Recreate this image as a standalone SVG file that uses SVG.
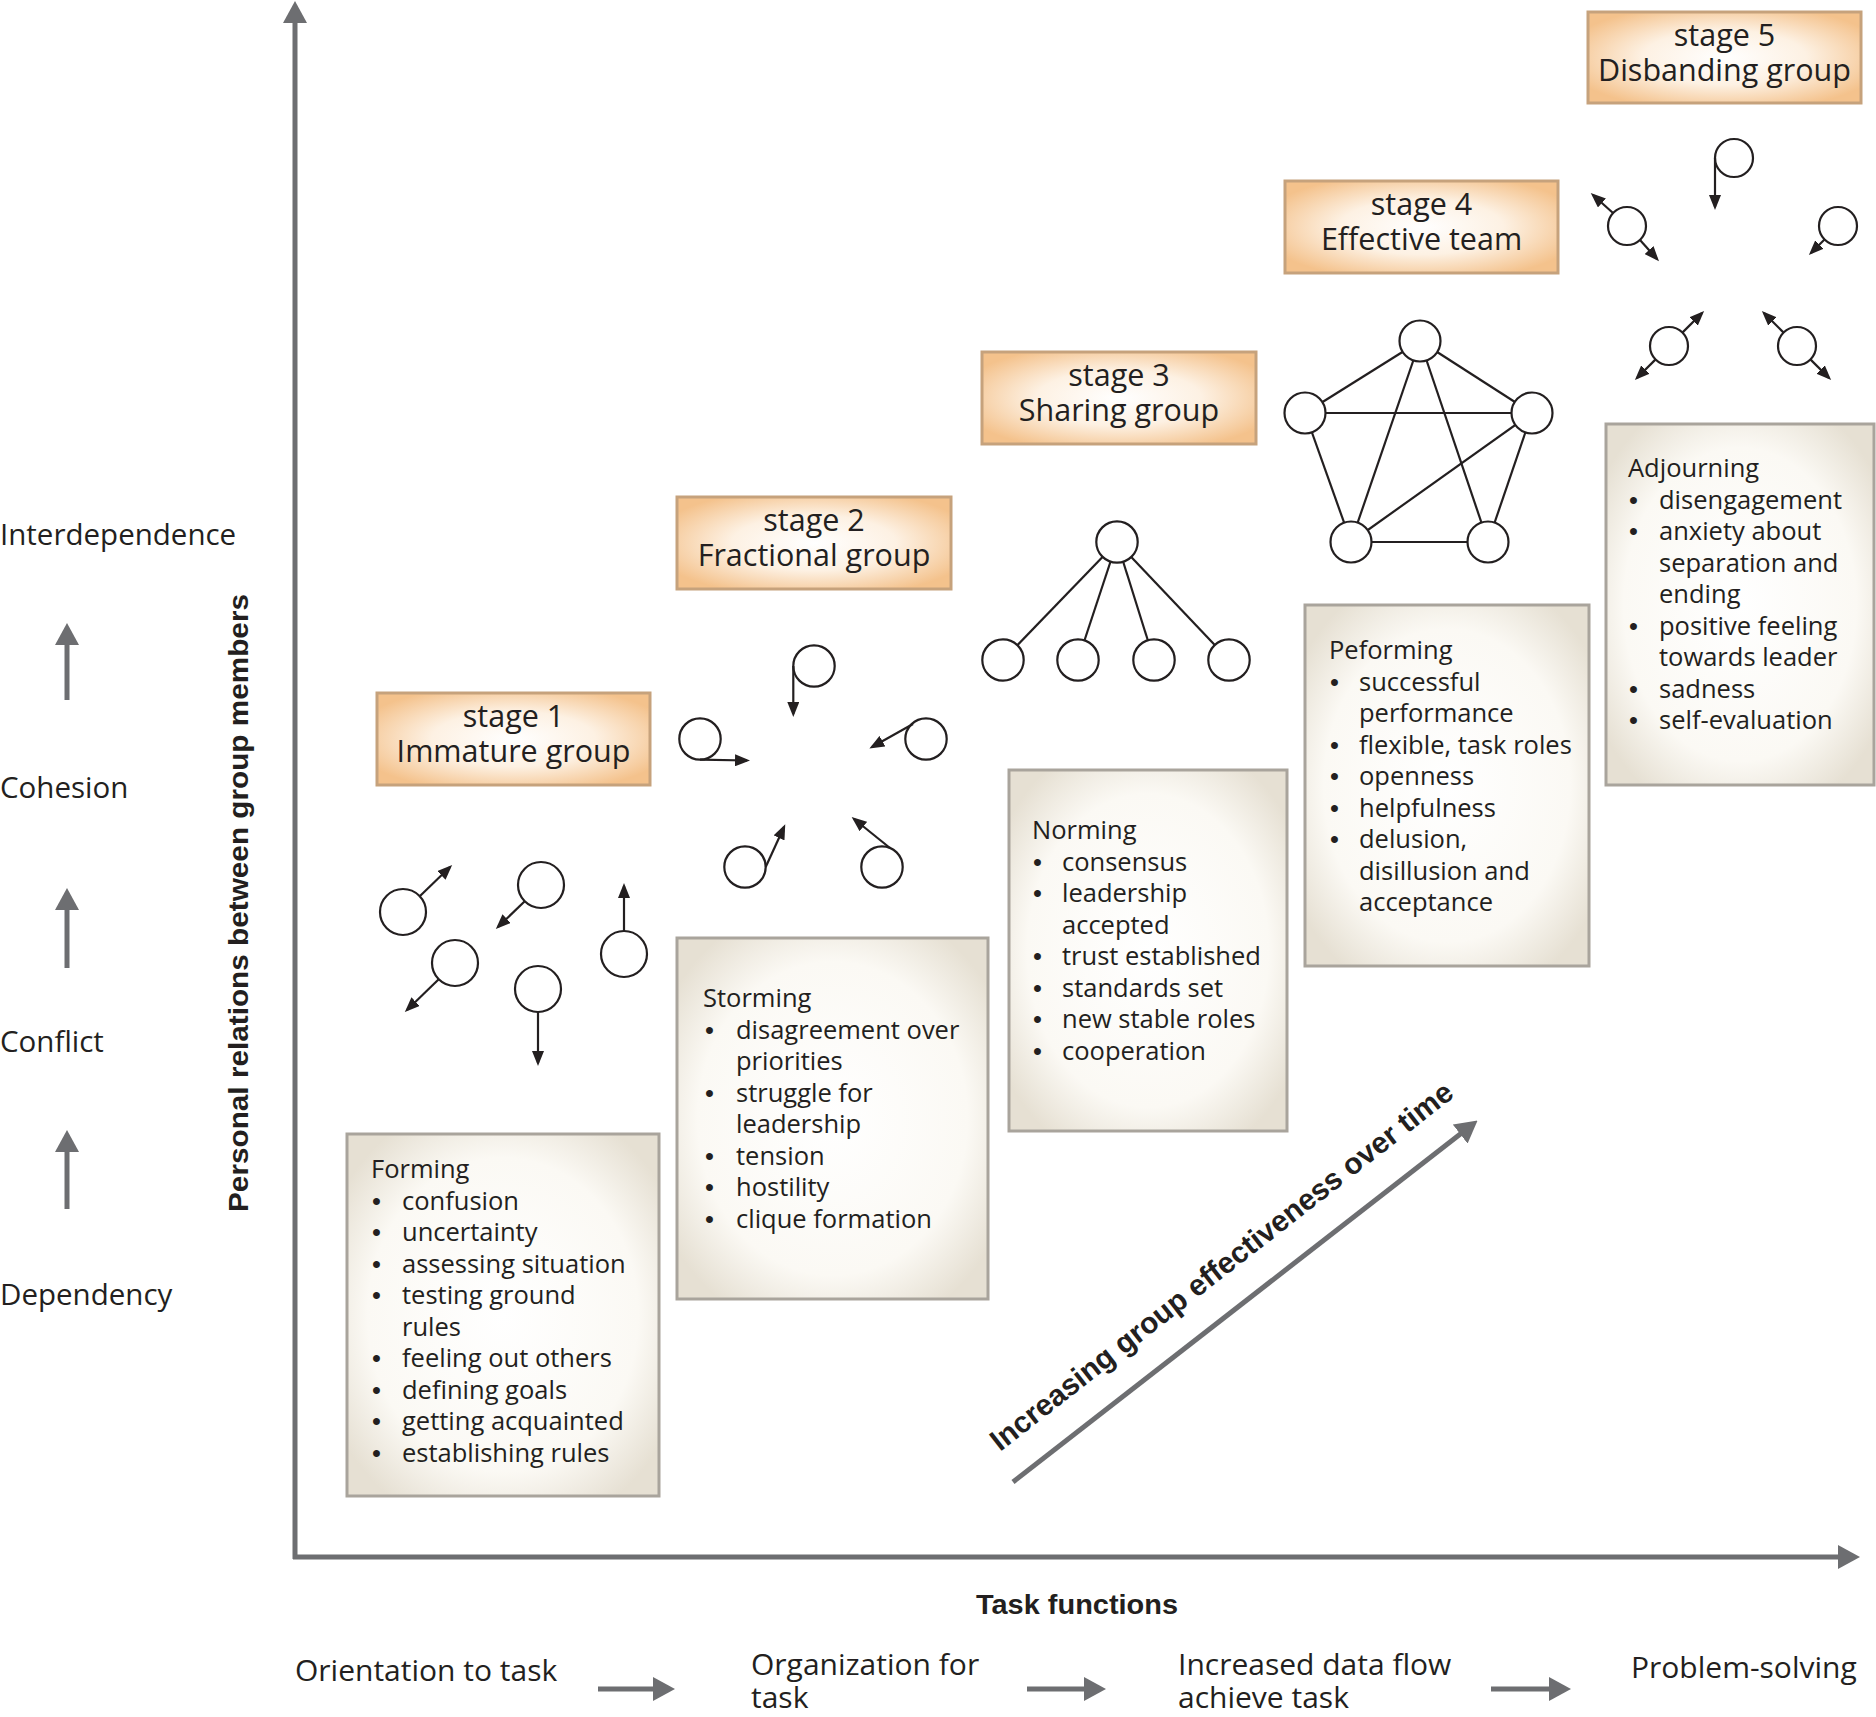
<svg xmlns="http://www.w3.org/2000/svg" width="1876" height="1717" viewBox="0 0 1876 1717">
<style>
.t{font-family:'Open Sans','Noto Sans','Liberation Sans',sans-serif;fill:#231f20}
.st{font-size:30.5px;text-anchor:middle}
.li{font-size:25.5px}
.bu{font-family:'Liberation Sans','Arial',sans-serif;font-size:25.5px}
.ax{font-size:29.5px}
.bx{font-size:30px}
.bd{font-family:'Liberation Sans','Open Sans',sans-serif;font-weight:700;fill:#231f20}
.g{stroke:#6d6e71;stroke-width:5;fill:none}
.k{stroke:#231f20;stroke-width:2.2;fill:none}
.c{fill:#fff;stroke:#231f20;stroke-width:2.2}
.e{stroke:#231f20;stroke-width:2.2}
.sbox{fill:url(#sg);stroke:#c6a27c;stroke-width:3}
.lbox{fill:url(#lg);stroke:#a9a49c;stroke-width:3}
</style>
<defs>
<radialGradient id="sg" cx="0.5" cy="0.5" r="0.6">
<stop offset="0" stop-color="#ffffff"/>
<stop offset="0.5" stop-color="#fdf1e3"/>
<stop offset="1" stop-color="#f4c28c"/>
</radialGradient>
<radialGradient id="lg" cx="0.5" cy="0.5" r="0.62">
<stop offset="0" stop-color="#ffffff"/>
<stop offset="0.7" stop-color="#fbf9f4"/>
<stop offset="1" stop-color="#e6e0d3"/>
</radialGradient>
<marker id="ah" viewBox="0 0 15 12" refX="12" refY="6" markerWidth="15" markerHeight="12" markerUnits="userSpaceOnUse" orient="auto">
<path d="M0,0 L15,6 L0,12 z" fill="#231f20"/>
</marker>
<marker id="gah" viewBox="0 0 22 24" refX="1" refY="12" markerWidth="22" markerHeight="24" markerUnits="userSpaceOnUse" orient="auto">
<path d="M0,0 L22,12 L0,24 z" fill="#6d6e71"/>
</marker>
</defs>
<rect width="1876" height="1717" fill="#ffffff"/>

<g id="connectors">
<line class="g" x1="295" y1="1559" x2="295" y2="22" marker-end="url(#gah)"/>
<line class="g" x1="293" y1="1557" x2="1839" y2="1557" marker-end="url(#gah)"/>
<line class="g" x1="67" y1="700" x2="67" y2="644" marker-end="url(#gah)"/>
<line class="g" x1="67" y1="968" x2="67" y2="909" marker-end="url(#gah)"/>
<line class="g" x1="67" y1="1209" x2="67" y2="1151" marker-end="url(#gah)"/>
<line class="g" x1="598" y1="1689" x2="654" y2="1689" marker-end="url(#gah)"/>
<line class="g" x1="1027" y1="1689" x2="1085" y2="1689" marker-end="url(#gah)"/>
<line class="g" x1="1491" y1="1689" x2="1550" y2="1689" marker-end="url(#gah)"/>
<line class="g" x1="1013" y1="1482" x2="1461" y2="1133.5" marker-end="url(#gah)"/>
</g>

<g id="axis-labels">
<text class="bd" font-size="28" text-anchor="middle" textLength="618" lengthAdjust="spacingAndGlyphs" transform="translate(248,903) rotate(-90)">Personal relations between group members</text>
<text class="bd" font-size="28" x="976" y="1614" textLength="202" lengthAdjust="spacingAndGlyphs">Task functions</text>
<text class="bd" font-size="30" textLength="578" lengthAdjust="spacingAndGlyphs" transform="translate(1000,1452) rotate(-38)">Increasing group effectiveness over time</text>
<text class="t ax" x="0" y="545">Interdependence</text>
<text class="t ax" x="0" y="798">Cohesion</text>
<text class="t ax" x="0" y="1052">Conflict</text>
<text class="t ax" x="0" y="1305">Dependency</text>
<text class="t bx" x="295" y="1681">Orientation to task</text>
<text class="t bx"><tspan x="751" y="1675">Organization for</tspan><tspan x="751" y="1708">task</tspan></text>
<text class="t bx"><tspan x="1178" y="1675">Increased data flow</tspan><tspan x="1178" y="1708">achieve task</tspan></text>
<text class="t bx" x="1631" y="1678">Problem-solving</text>
</g>

<g id="stage1">
<rect class="sbox" x="377" y="693" width="273" height="92"/>
<text class="t st"><tspan x="513.5" y="727">stage 1</tspan><tspan x="513.5" y="762">Immature group</tspan></text>
</g>
<g id="stage1-members">
<line class="k" x1="420" y1="896" x2="450" y2="867" marker-end="url(#ah)"/>
<circle class="c" cx="403" cy="912" r="23"/>
<line class="k" x1="525" y1="901" x2="498" y2="927" marker-end="url(#ah)"/>
<circle class="c" cx="541" cy="885" r="23"/>
<line class="k" x1="439" y1="979" x2="407" y2="1010" marker-end="url(#ah)"/>
<circle class="c" cx="455" cy="963" r="23"/>
<line class="k" x1="538" y1="1012" x2="538" y2="1063" marker-end="url(#ah)"/>
<circle class="c" cx="538" cy="989" r="23"/>
<line class="k" x1="624" y1="931" x2="624" y2="886" marker-end="url(#ah)"/>
<circle class="c" cx="624" cy="954" r="23"/>
</g>

<g id="stage2">
<rect class="sbox" x="677" y="497" width="274" height="92"/>
<text class="t st"><tspan x="814" y="531">stage 2</tspan><tspan x="814" y="566">Fractional group</tspan></text>
</g>
<g id="stage2-members">
<circle class="c" cx="814" cy="666" r="20.7"/>
<line class="k" x1="793.3" y1="666" x2="793.3" y2="714" marker-end="url(#ah)"/>
<circle class="c" cx="700" cy="739" r="20.7"/>
<line class="k" x1="700" y1="759.7" x2="747" y2="760.5" marker-end="url(#ah)"/>
<circle class="c" cx="926" cy="739" r="20.7"/>
<line class="k" x1="913" y1="724" x2="872" y2="747" marker-end="url(#ah)"/>
<circle class="c" cx="745" cy="867" r="20.7"/>
<line class="k" x1="765.7" y1="867" x2="784" y2="827" marker-end="url(#ah)"/>
<circle class="c" cx="882" cy="867" r="20.7"/>
<line class="k" x1="890" y1="848" x2="854" y2="819" marker-end="url(#ah)"/>
</g>

<g id="stage3">
<rect class="sbox" x="982" y="352" width="274" height="92"/>
<text class="t st"><tspan x="1119" y="386">stage 3</tspan><tspan x="1119" y="421">Sharing group</tspan></text>
</g>
<g id="stage3-members">
<line class="e" x1="1117" y1="542" x2="1003" y2="660"/>
<line class="e" x1="1117" y1="542" x2="1078" y2="660"/>
<line class="e" x1="1117" y1="542" x2="1154" y2="660"/>
<line class="e" x1="1117" y1="542" x2="1229" y2="660"/>
<circle class="c" cx="1117" cy="542" r="20.7"/>
<circle class="c" cx="1003" cy="660" r="20.7"/>
<circle class="c" cx="1078" cy="660" r="20.7"/>
<circle class="c" cx="1154" cy="660" r="20.7"/>
<circle class="c" cx="1229" cy="660" r="20.7"/>
</g>

<g id="stage4">
<rect class="sbox" x="1285" y="181" width="273" height="92"/>
<text class="t st"><tspan x="1421.5" y="215">stage 4</tspan><tspan x="1421.5" y="250">Effective team</tspan></text>
</g>
<g id="stage4-members">
<line class="e" x1="1420" y1="341" x2="1305" y2="413"/>
<line class="e" x1="1420" y1="341" x2="1532" y2="413"/>
<line class="e" x1="1305" y1="413" x2="1532" y2="413"/>
<line class="e" x1="1305" y1="413" x2="1351" y2="542"/>
<line class="e" x1="1532" y1="413" x2="1488" y2="542"/>
<line class="e" x1="1351" y1="542" x2="1488" y2="542"/>
<line class="e" x1="1420" y1="341" x2="1351" y2="542"/>
<line class="e" x1="1420" y1="341" x2="1488" y2="542"/>
<line class="e" x1="1532" y1="413" x2="1351" y2="542"/>
<circle class="c" cx="1420" cy="341" r="20.5"/>
<circle class="c" cx="1305" cy="413" r="20.5"/>
<circle class="c" cx="1532" cy="413" r="20.5"/>
<circle class="c" cx="1351" cy="542" r="20.5"/>
<circle class="c" cx="1488" cy="542" r="20.5"/>
</g>

<g id="stage5">
<rect class="sbox" x="1588" y="12" width="273" height="91"/>
<text class="t st"><tspan x="1724.5" y="46">stage 5</tspan><tspan x="1724.5" y="81">Disbanding group</tspan></text>
</g>
<g id="stage5-members">
<circle class="c" cx="1734" cy="158" r="19"/>
<line class="k" x1="1715" y1="158" x2="1715" y2="207" marker-end="url(#ah)"/>
<circle class="c" cx="1627" cy="226" r="19"/>
<line class="k" x1="1613" y1="213" x2="1593" y2="195" marker-end="url(#ah)"/>
<line class="k" x1="1640" y1="240" x2="1657" y2="259" marker-end="url(#ah)"/>
<circle class="c" cx="1838" cy="226" r="19"/>
<line class="k" x1="1825" y1="239" x2="1811" y2="253" marker-end="url(#ah)"/>
<circle class="c" cx="1669" cy="346" r="19"/>
<line class="k" x1="1682.4" y1="332.6" x2="1702" y2="313" marker-end="url(#ah)"/>
<line class="k" x1="1655.6" y1="359.4" x2="1637" y2="378" marker-end="url(#ah)"/>
<circle class="c" cx="1797" cy="346" r="19"/>
<line class="k" x1="1783.6" y1="332.6" x2="1764" y2="313" marker-end="url(#ah)"/>
<line class="k" x1="1810.4" y1="359.4" x2="1829" y2="378" marker-end="url(#ah)"/>
</g>

<g id="forming">
<rect class="lbox" x="347" y="1134" width="312" height="362"/>
<text class="t li"><tspan x="371" y="1178">Forming</tspan><tspan class="bu" x="372" y="1209.5">•</tspan><tspan x="402" y="1209.5">confusion</tspan><tspan class="bu" x="372" y="1241">•</tspan><tspan x="402" y="1241">uncertainty</tspan><tspan class="bu" x="372" y="1272.5">•</tspan><tspan x="402" y="1272.5">assessing situation</tspan><tspan class="bu" x="372" y="1304">•</tspan><tspan x="402" y="1304">testing ground</tspan><tspan x="402" y="1335.5">rules</tspan><tspan class="bu" x="372" y="1367">•</tspan><tspan x="402" y="1367">feeling out others</tspan><tspan class="bu" x="372" y="1398.5">•</tspan><tspan x="402" y="1398.5">defining goals</tspan><tspan class="bu" x="372" y="1430">•</tspan><tspan x="402" y="1430">getting acquainted</tspan><tspan class="bu" x="372" y="1461.5">•</tspan><tspan x="402" y="1461.5">establishing rules</tspan></text>
</g>

<g id="storming">
<rect class="lbox" x="677" y="938" width="311" height="361"/>
<text class="t li"><tspan x="703" y="1007">Storming</tspan><tspan class="bu" x="705" y="1038.5">•</tspan><tspan x="736" y="1038.5">disagreement over</tspan><tspan x="736" y="1070">priorities</tspan><tspan class="bu" x="705" y="1101.5">•</tspan><tspan x="736" y="1101.5">struggle for</tspan><tspan x="736" y="1133">leadership</tspan><tspan class="bu" x="705" y="1164.5">•</tspan><tspan x="736" y="1164.5">tension</tspan><tspan class="bu" x="705" y="1196">•</tspan><tspan x="736" y="1196">hostility</tspan><tspan class="bu" x="705" y="1227.5">•</tspan><tspan x="736" y="1227.5">clique formation</tspan></text>
</g>

<g id="norming">
<rect class="lbox" x="1009" y="770" width="278" height="361"/>
<text class="t li"><tspan x="1032" y="839">Norming</tspan><tspan class="bu" x="1033" y="870.5">•</tspan><tspan x="1062" y="870.5">consensus</tspan><tspan class="bu" x="1033" y="902">•</tspan><tspan x="1062" y="902">leadership</tspan><tspan x="1062" y="933.5">accepted</tspan><tspan class="bu" x="1033" y="965">•</tspan><tspan x="1062" y="965">trust established</tspan><tspan class="bu" x="1033" y="996.5">•</tspan><tspan x="1062" y="996.5">standards set</tspan><tspan class="bu" x="1033" y="1028">•</tspan><tspan x="1062" y="1028">new stable roles</tspan><tspan class="bu" x="1033" y="1059.5">•</tspan><tspan x="1062" y="1059.5">cooperation</tspan></text>
</g>

<g id="performing">
<rect class="lbox" x="1305" y="605" width="284" height="361"/>
<text class="t li"><tspan x="1329" y="659">Peforming</tspan><tspan class="bu" x="1330" y="690.5">•</tspan><tspan x="1359" y="690.5">successful</tspan><tspan x="1359" y="722">performance</tspan><tspan class="bu" x="1330" y="753.5">•</tspan><tspan x="1359" y="753.5">flexible, task roles</tspan><tspan class="bu" x="1330" y="785">•</tspan><tspan x="1359" y="785">openness</tspan><tspan class="bu" x="1330" y="816.5">•</tspan><tspan x="1359" y="816.5">helpfulness</tspan><tspan class="bu" x="1330" y="848">•</tspan><tspan x="1359" y="848">delusion,</tspan><tspan x="1359" y="879.5">disillusion and</tspan><tspan x="1359" y="911">acceptance</tspan></text>
</g>

<g id="adjourning">
<rect class="lbox" x="1606" y="424" width="268" height="361"/>
<text class="t li"><tspan x="1628" y="477">Adjourning</tspan><tspan class="bu" x="1629" y="508.5">•</tspan><tspan x="1659" y="508.5">disengagement</tspan><tspan class="bu" x="1629" y="540">•</tspan><tspan x="1659" y="540">anxiety about</tspan><tspan x="1659" y="571.5">separation and</tspan><tspan x="1659" y="603">ending</tspan><tspan class="bu" x="1629" y="634.5">•</tspan><tspan x="1659" y="634.5">positive feeling</tspan><tspan x="1659" y="666">towards leader</tspan><tspan class="bu" x="1629" y="697.5">•</tspan><tspan x="1659" y="697.5">sadness</tspan><tspan class="bu" x="1629" y="729">•</tspan><tspan x="1659" y="729">self-evaluation</tspan></text>
</g>
</svg>
